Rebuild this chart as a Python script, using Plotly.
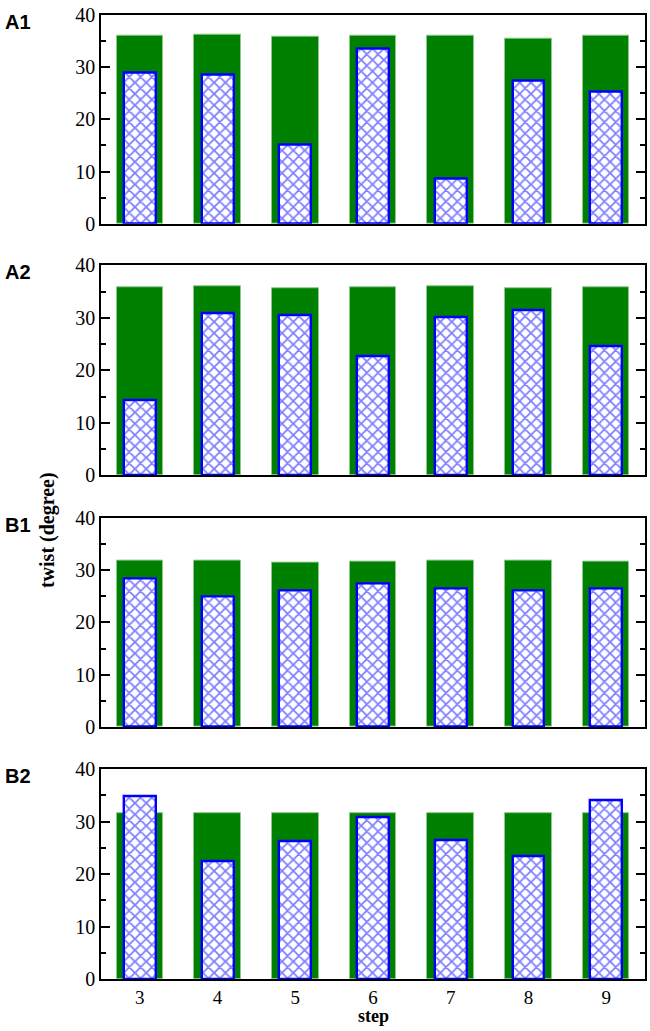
import plotly.graph_objects as go

steps = [3, 4, 5, 6, 7, 8, 9]
panel_labels = ["A1", "A2", "B1", "B2"]

green_A1 = [36.0, 36.1, 35.7, 36.0, 36.0, 35.4, 36.0]
blue_A1 = [28.9, 28.5, 15.2, 33.5, 8.6, 27.3, 25.2]

green_A2 = [35.9, 36.0, 35.6, 35.9, 36.0, 35.6, 35.9]
blue_A2 = [14.3, 30.8, 30.5, 22.6, 30.1, 31.5, 24.6]

green_B1 = [31.7, 31.8, 31.4, 31.6, 31.7, 31.7, 31.6]
blue_B1 = [28.4, 24.9, 26.0, 27.3, 26.5, 26.0, 26.4]

green_B2 = [31.6, 31.7, 31.6, 31.6, 31.7, 31.6, 31.6]
blue_B2 = [34.9, 22.5, 26.2, 30.8, 26.5, 23.5, 34.0]

green_series = [green_A1, green_A2, green_B1, green_B2]
blue_series = [blue_A1, blue_A2, blue_B1, blue_B2]

y_ticks = [0, 10, 20, 30, 40]

W, H = 650, 1031
ML, MR, MT, MB = 101, 3, 10, 52
plot_h = H - MT - MB

def py(px):
    return (H - MB - px) / plot_h

def pxx(px):
    return (px - ML) / (W - ML - MR)

panel_px = [(10.7, 220.7), (262.3, 473.3), (515.7, 726.0), (768.3, 979.0)]

fig = go.Figure()
serif = "Liberation Serif"

for i in range(4):
    n = "" if i == 0 else str(i + 1)
    xa = "x" + n
    ya = "y" + n
    fig.add_trace(go.Bar(
        x=steps, y=green_series[i], width=0.6,
        marker=dict(color="#008000", line=dict(color="#8cc88c", width=1)),
        xaxis=xa, yaxis=ya, showlegend=False,
    ))
    fig.add_trace(go.Bar(
        x=steps, y=blue_series[i], width=0.41,
        marker=dict(color="white", line=dict(color="#0000ff", width=2.4),
                    pattern=dict(shape="x", fgcolor="#0000ff", bgcolor="white",
                                 size=8, solidity=0.4)),
        xaxis=xa, yaxis=ya, showlegend=False,
    ))
    top, bot = panel_px[i]
    dom = [py(bot), min(1.0, py(top))]
    xkey = "xaxis" + n
    ykey = "yaxis" + n
    fig.layout[xkey] = dict(
        domain=[0, 1], range=[2.5, 9.5], anchor=ya,
        tickvals=steps, ticks="", showline=True, linecolor="black", linewidth=1.5,
        mirror=True, showgrid=False, zeroline=False,
        showticklabels=(i == 3),
        tickfont=dict(family=serif, size=19, color="black"),
    )
    fig.layout[ykey] = dict(
        domain=dom, range=[0, 40], anchor=xa,
        tickvals=y_ticks, ticks="inside", ticklen=9, tickwidth=1.5, tickcolor="black",
        showline=True, linecolor="black", linewidth=1.5, mirror="ticks",
        showgrid=False, zeroline=False,
        minor=dict(dtick=5, ticks="inside", ticklen=5, tickwidth=1.5, tickcolor="black",
                   showgrid=False),
        tickfont=dict(family=serif, size=20, color="black"),
    )
    fig.add_annotation(
        text="<b>%s</b>" % panel_labels[i], xref="paper", yref="paper",
        x=pxx(3), y=py(top + 7), xanchor="left", yanchor="middle",
        showarrow=False, font=dict(family="Liberation Sans", size=20, color="black"),
    )

fig.add_annotation(
    text="<b>step</b>", xref="paper", yref="paper",
    x=pxx(374), y=py(1028), xanchor="center", yanchor="bottom",
    showarrow=False, font=dict(family=serif, size=18, color="black"),
)

fig.add_annotation(
    text="<b>twist (degree)</b>", xref="paper", yref="paper",
    x=pxx(48), y=py(528), xanchor="center", yanchor="middle", textangle=-90,
    showarrow=False, font=dict(family=serif, size=20, color="black"),
)

fig.update_layout(
    width=W, height=H, barmode="overlay", bargap=0,
    margin=dict(l=ML, r=MR, t=MT, b=MB),
    plot_bgcolor="white", paper_bgcolor="white",
)

fig.write_html("out.html", config={"displayModeBar": False},
               post_script="document.body.style.margin='0';document.body.style.overflow='hidden';")
